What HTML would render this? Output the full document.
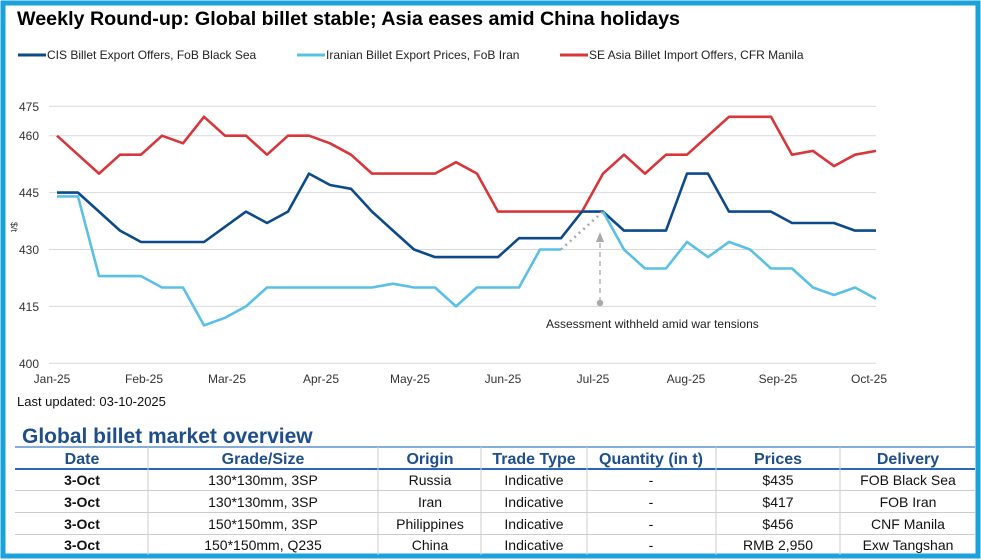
<!DOCTYPE html>
<html><head><meta charset="utf-8"><style>
html,body{margin:0;padding:0;background:#fff;}
svg{display:block;font-family:"Liberation Sans",sans-serif;}
</style></head><body>
<svg width="981" height="560" viewBox="0 0 981 560" xmlns="http://www.w3.org/2000/svg">
<rect x="0" y="0" width="981" height="560" fill="#fff"/>
<rect x="3" y="3" width="975" height="553" fill="none" stroke="#1ba1dc" stroke-width="5"/>
<text x="17" y="25" font-size="19.7" font-weight="bold" fill="#000">Weekly Round-up: Global billet stable; Asia eases amid China holidays</text>
<g font-size="12" fill="#222">
<line x1="18" y1="55" x2="46" y2="55" stroke="#0d4a8c" stroke-width="3"/><text x="47" y="59">CIS Billet Export Offers, FoB Black Sea</text>
<line x1="297" y1="55" x2="325" y2="55" stroke="#5bc0e6" stroke-width="3"/><text x="326" y="59">Iranian Billet Export Prices, FoB Iran</text>
<line x1="560" y1="55" x2="588" y2="55" stroke="#d9363a" stroke-width="3"/><text x="589" y="59">SE Asia Billet Import Offers, CFR Manila</text>
</g>
<g stroke="#d9d9d9" stroke-width="1">
<line x1="49" y1="106.3" x2="876" y2="106.3"/><line x1="49" y1="135.7" x2="876" y2="135.7"/><line x1="49" y1="192.6" x2="876" y2="192.6"/><line x1="49" y1="249.5" x2="876" y2="249.5"/><line x1="49" y1="306.4" x2="876" y2="306.4"/><line x1="49" y1="363.3" x2="876" y2="363.3"/>
</g>
<g font-size="12" fill="#333">
<text x="19" y="111">475</text><text x="19" y="140">460</text><text x="19" y="197">445</text><text x="19" y="254">430</text><text x="19" y="311">415</text><text x="19" y="368">400</text>
<text x="11" y="222" font-size="9" transform="rotate(90 11 222)">$/t</text>
</g>
<g font-size="12" fill="#333" text-anchor="middle">
<text x="52" y="383">Jan-25</text><text x="144" y="383">Feb-25</text><text x="227" y="383">Mar-25</text><text x="321" y="383">Apr-25</text><text x="410" y="383">May-25</text><text x="503" y="383">Jun-25</text><text x="593" y="383">Jul-25</text><text x="686" y="383">Aug-25</text><text x="778" y="383">Sep-25</text><text x="869" y="383">Oct-25</text>
</g>
<polyline fill="none" stroke="#d9363a" stroke-width="2.6" stroke-linejoin="round" points="57,135.7 78,154.7 99,173.6 120,154.7 141,154.7 162,135.7 183,143.3 204,116.8 225,135.7 246,135.7 267,154.7 288,135.7 309,135.7 330,143.3 351,154.7 372,173.6 393,173.6 414,173.6 435,173.6 456,162.2 477,173.6 498,211.6 519,211.6 540,211.6 561,211.6 582,211.6 603,173.6 624,154.7 645,173.6 666,154.7 687,154.7 708,135.7 729,116.8 750,116.8 771,116.8 792,154.7 813,150.9 834,166.1 855,154.7 876,150.9"/>
<polyline fill="none" stroke="#0d4a8c" stroke-width="2.6" stroke-linejoin="round" points="57,192.6 78,192.6 99,211.6 120,230.6 141,242 162,242 183,242 204,242 225,226.8 246,211.6 267,223 288,211.6 309,173.6 330,185 351,188.8 372,211.6 393,230.6 414,249.5 435,257.1 456,257.1 477,257.1 498,257.1 519,238.2 540,238.2 561,238.2 582,211.6 603,211.6 624,230.6 645,230.6 666,230.6 687,173.6 708,173.6 729,211.6 750,211.6 771,211.6 792,223 813,223 834,223 855,230.6 876,230.6"/>
<polyline fill="none" stroke="#5bc0e6" stroke-width="2.6" stroke-linejoin="round" points="57,196.4 78,196.4 99,276.1 120,276.1 141,276.1 162,287.5 183,287.5 204,325.4 225,317.8 246,306.4 267,287.5 288,287.5 309,287.5 330,287.5 351,287.5 372,287.5 393,283.7 414,287.5 435,287.5 456,306.4 477,287.5 498,287.5 519,287.5 540,249.5 561,249.5"/>
<polyline fill="none" stroke="#5bc0e6" stroke-width="2.6" stroke-linejoin="round" points="603,211.6 624,249.5 645,268.5 666,268.5 687,241.9 708,257.1 729,241.9 750,249.5 771,268.5 792,268.5 813,287.5 834,295 855,287.5 876,298.9"/>
<line x1="561" y1="249.5" x2="603" y2="211.6" stroke="#aaa" stroke-width="2.5" stroke-dasharray="2,4"/>
<line x1="600" y1="302" x2="600" y2="238" stroke="#aaa" stroke-width="1.3" stroke-dasharray="5,4"/>
<polygon points="600,232 596,242 604,242" fill="#aaa"/>
<circle cx="600" cy="303" r="3.2" fill="#aaa"/>
<text x="546" y="328" font-size="12" fill="#222">Assessment withheld amid  war tensions</text>
<text x="17" y="406" font-size="13" fill="#111">Last updated: 03-10-2025</text>
<text x="22" y="443" font-size="21" font-weight="bold" fill="#1f4e8c">Global billet market overview</text>
<line x1="15" y1="447" x2="975" y2="447" stroke="#3a7cc2" stroke-width="1.2"/>
<line x1="15" y1="469" x2="975" y2="469" stroke="#2a6ab5" stroke-width="2"/>
<g stroke="#ccc" stroke-width="1">
<line x1="15" y1="490.5" x2="975" y2="490.5"/><line x1="15" y1="512.5" x2="975" y2="512.5"/><line x1="15" y1="534.5" x2="975" y2="534.5"/>
<line x1="148" y1="447" x2="148" y2="555"/><line x1="378" y1="447" x2="378" y2="555"/><line x1="481" y1="447" x2="481" y2="555"/><line x1="587" y1="447" x2="587" y2="555"/><line x1="716" y1="447" x2="716" y2="555"/><line x1="840" y1="447" x2="840" y2="555"/>
</g>
<g font-size="16" font-weight="bold" fill="#1f4e8c" text-anchor="middle">
<text x="82" y="464">Date</text><text x="263" y="464">Grade/Size</text><text x="430" y="464">Origin</text><text x="534" y="464">Trade Type</text><text x="651" y="464">Quantity (in t)</text><text x="778" y="464">Prices</text><text x="908" y="464">Delivery</text>
</g>
<g font-size="14" fill="#111" text-anchor="middle">
<text x="82" y="485" font-weight="bold">3-Oct</text><text x="263" y="485">130*130mm, 3SP</text><text x="430" y="485">Russia</text><text x="534" y="485">Indicative</text><text x="651" y="485">-</text><text x="778" y="485">$435</text><text x="908" y="485">FOB Black Sea</text>
<text x="82" y="507" font-weight="bold">3-Oct</text><text x="263" y="507">130*130mm, 3SP</text><text x="430" y="507">Iran</text><text x="534" y="507">Indicative</text><text x="651" y="507">-</text><text x="778" y="507">$417</text><text x="908" y="507">FOB Iran</text>
<text x="82" y="529" font-weight="bold">3-Oct</text><text x="263" y="529">150*150mm, 3SP</text><text x="430" y="529">Philippines</text><text x="534" y="529">Indicative</text><text x="651" y="529">-</text><text x="778" y="529">$456</text><text x="908" y="529">CNF Manila</text>
<text x="82" y="550" font-weight="bold">3-Oct</text><text x="263" y="550">150*150mm, Q235</text><text x="430" y="550">China</text><text x="534" y="550">Indicative</text><text x="651" y="550">-</text><text x="778" y="550">RMB 2,950</text><text x="908" y="550">Exw Tangshan</text>
</g>
</svg>
</body></html>
